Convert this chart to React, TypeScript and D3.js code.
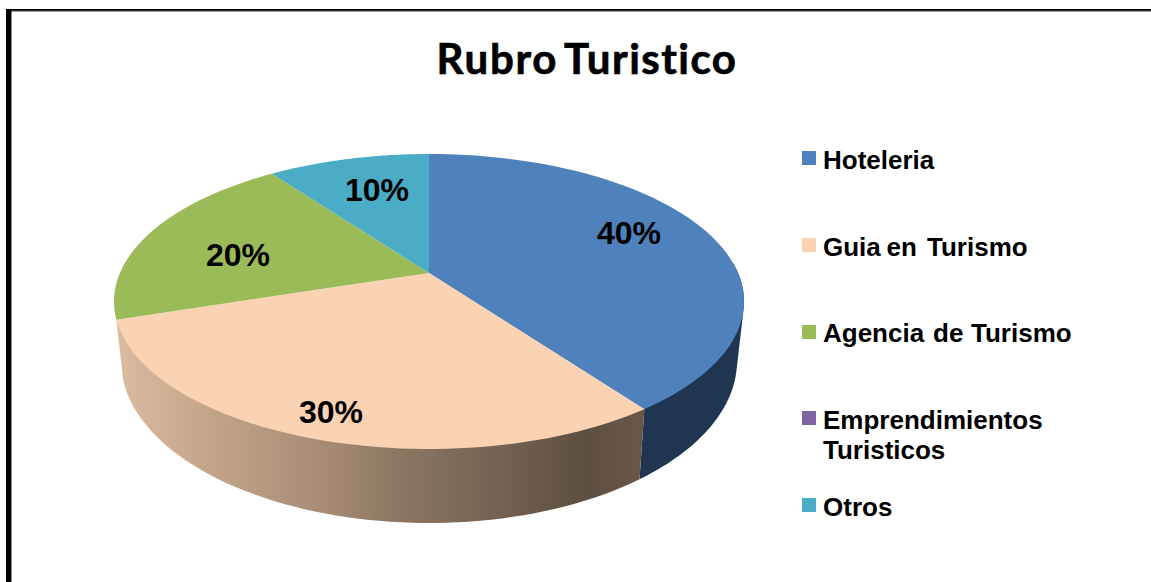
import React from "react";
import * as d3 from "d3";

const categories = ["Hoteleria", "Guia en Turismo", "Agencia de Turismo", "Emprendimientos Turisticos", "Otros"];
const values = [40, 30, 20, 0, 10];
const faceColors = ["#4F81BD", "#FBD3B3", "#9BBB59", "#8064A2", "#4BACC6"];
const sideColors = ["#1F3552", "url(#peachSide)", "#5f7336", "#4d3c63", "#2c6a7b"];
const peachStopColors = ["#DCBCA0", "#C6A78C", "#A88C75", "#8C7662", "#736252", "#5E4E40", "#685748"];
const peachStopX = [117, 200, 320, 400, 500, 585, 637];

const W = 1151, H = 582;
// Perspective ellipses of the pie
const top = { cx: 429, cy: 301.5, rx: 315, ry: 147.5 };
const bottom = { cx: 429, cy: 361, rx: 308, ry: 162 };
const hub = { x: 429, y: 273 };
const d = (top.cy - hub.y) / top.ry;
const b = (1 - Math.sqrt(1 - d * d)) / d;
const warp = (a: number) => {
  // true angle on the disc -> apparent angle on the tilted ellipse
  const turns = Math.round(a / (2 * Math.PI));
  const rel = a - turns * 2 * Math.PI;
  return 2 * Math.atan(((1 - b) / (1 + b)) * Math.tan(rel / 2)) + turns * 2 * Math.PI;
};
const onEllipse = (e: typeof top, t: number): [number, number] => [e.cx + e.rx * Math.sin(t), e.cy - e.ry * Math.cos(t)];
const arcPts = (e: typeof top, t0: number, t1: number) =>
  d3.range(0, 61).map((i) => onEllipse(e, t0 + ((t1 - t0) * i) / 60));

const pie = d3.pie<number>().sort(null).startAngle(0).endAngle(2 * Math.PI);
const slices = pie(values);
const line = d3.line();
const rad = (deg: number) => (deg * Math.PI) / 180;

const gradOffset = d3.scaleLinear().domain([peachStopX[0], peachStopX[peachStopX.length - 1]]).range([0, 1]);

const pctLabels = [
  { i: 0, x: 629, y: 244 },
  { i: 1, x: 331, y: 423 },
  { i: 2, x: 238, y: 266 },
  { i: 4, x: 377, y: 201 },
];
const legendRows = [
  { i: 0, sy: 151, lines: [{ y: 169, words: [["Hoteleria", 823]] }] },
  { i: 1, sy: 238, lines: [{ y: 256, words: [["Guia", 823], ["en", 886.5], ["Turismo", 927]] }] },
  { i: 2, sy: 325, lines: [{ y: 342, words: [["Agencia", 823], ["de", 933], ["Turismo", 971]] }] },
  { i: 3, sy: 411, lines: [{ y: 429, words: [["Emprendimientos", 823]] }, { y: 459, words: [["Turisticos", 823]] }] },
  { i: 4, sy: 498, lines: [{ y: 516, words: [["Otros", 823]] }] },
];
const sans = "'Liberation Sans', Arial, sans-serif";

export default function App() {
  const sides = slices
    .map((s, i) => {
      if (s.startAngle === s.endAngle) return null;
      const t0 = warp(s.startAngle);
      const t1 = warp(s.endAngle);
      const lo = Math.max(t0, rad(75));
      const hi = Math.min(t1, rad(263));
      if (lo >= hi) return null;
      const hull = d3.polygonHull([...arcPts(top, lo, hi), ...arcPts(bottom, lo, hi)] as [number, number][]);
      return <path key={i} d={line(hull!)! + "Z"} fill={sideColors[i]} />;
    })
    .filter(Boolean);
  return (
    <svg width={W} height={H} style={{ position: "absolute", left: 0, top: 0, background: "#fff" }}>
      <defs>
        <linearGradient id="peachSide" gradientUnits="userSpaceOnUse" x1={peachStopX[0]} x2={peachStopX[peachStopX.length - 1]} y1={0} y2={0}>
          {peachStopColors.map((c, i) => (
            <stop key={i} offset={gradOffset(peachStopX[i])} stopColor={c} />
          ))}
        </linearGradient>
      </defs>
      <path d={`M6 ${H}V9H${W}V11H11.5V${H}Z`} fill="#000" />
      <rect x={11} y={11} width={1} height={H - 11} fill="#888" />
      <rect x={11} y={10.5} width={W - 11} height={1} fill="#444" />

      <text y={74} fontFamily="Lato, 'Open Sans', sans-serif" fontWeight={700} fontSize={42} fill="#000" stroke="#000" strokeWidth={0.7} style={{ fontVariantLigatures: "none" }}>
        <tspan x={436.5} textLength={120}>Rubro</tspan>
        <tspan x={564} textLength={172}>Turistico</tspan>
      </text>

      {sides}
      {slices.map((s, i) => {
        if (s.startAngle === s.endAngle) return null;
        const pts = arcPts(top, warp(s.startAngle), warp(s.endAngle));
        return <path key={i} d={line([[hub.x, hub.y], ...pts] as [number, number][])! + "Z"} fill={faceColors[i]} />;
      })}

      <g fontFamily={sans} fontWeight={700} fontSize={32} textAnchor="middle" fill="#000">
        {pctLabels.map((l) => (
          <text key={l.i} x={l.x} y={l.y}>{`${values[l.i]}%`}</text>
        ))}
      </g>

      <g fontFamily={sans} fontWeight={700} fontSize={26} fill="#000">
        {legendRows.map((r) => (
          <g key={r.i}>
            <rect x={802} y={r.sy} width={14} height={14} fill={faceColors[r.i]} />
            {r.lines.map((ln, j) => (
              <text key={j} y={ln.y}>
                {ln.words.map(([w, x]) => (
                  <tspan key={String(w)} x={x as number}>{w}</tspan>
                ))}
              </text>
            ))}
          </g>
        ))}
      </g>
    </svg>
  );
}
